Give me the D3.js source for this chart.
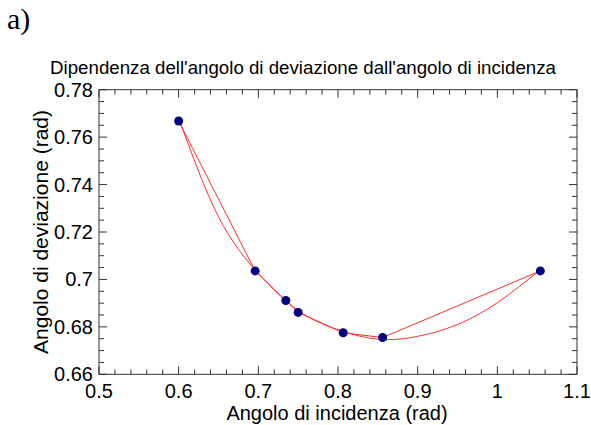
<!DOCTYPE html>
<meta charset="utf-8">
<style>
    body { margin: 0; background: #fff; }
    text { font-family: "Liberation Sans", Arial, sans-serif; fill: #000; }
</style>
<svg width="591" height="425"></svg>
<script src="https://cdnjs.cloudflare.com/ajax/libs/d3/7.8.5/d3.min.js"></script>
<script>
    // measured points (incidence, deviation) in rad
    var incidence = [0.600, 0.696, 0.7345, 0.750, 0.8065, 0.856, 1.054];
    var deviation = [0.7668, 0.7036, 0.6911, 0.6861, 0.6775, 0.6755, 0.7036];

    // smooth red curve
    var curveX = [0.600, 0.650, 0.700, 0.750, 0.800, 0.850, 0.900, 0.950, 1.000, 1.054];
    var curveY = [0.7680, 0.7264, 0.7026, 0.6869, 0.6788, 0.6748, 0.6760, 0.6810, 0.6902, 0.7041];

    var xTicks = [0.5, 0.6, 0.7, 0.8, 0.9, 1, 1.1];
    var yTicks = [0.66, 0.68, 0.7, 0.72, 0.74, 0.76, 0.78];

    var svg = d3.select("svg");
    var x = d3.scaleLinear().domain([0.5, 1.1]).range([99, 577]);
    var y = d3.scaleLinear().domain([0.66, 0.78]).range([374.3, 89.7]);

    var frame = svg.append("g").attr("stroke", "#333").attr("fill", "none");
    frame.append("rect")
        .attr("x", x(0.5)).attr("y", y(0.78))
        .attr("width", x(1.1) - x(0.5)).attr("height", y(0.66) - y(0.78));

    // ticks, inward on all four sides
    var xMinor = d3.range(0.5, 1.1001, 0.02);
    var yMinor = d3.range(0.66, 0.7801, 0.005);
    function isMajor(v, step) { return Math.abs(v / step - Math.round(v / step)) < 1e-6; }

    xMinor.forEach(function (v) {
        var len = isMajor(v, 0.1) ? 8 : 5;
        frame.append("line").attr("x1", x(v)).attr("x2", x(v)).attr("y1", y(0.66)).attr("y2", y(0.66) - len);
        frame.append("line").attr("x1", x(v)).attr("x2", x(v)).attr("y1", y(0.78)).attr("y2", y(0.78) + len);
    });
    yMinor.forEach(function (v) {
        var len = isMajor(v, 0.02) ? 8 : 5;
        frame.append("line").attr("y1", y(v)).attr("y2", y(v)).attr("x1", x(0.5)).attr("x2", x(0.5) + len);
        frame.append("line").attr("y1", y(v)).attr("y2", y(v)).attr("x1", x(1.1)).attr("x2", x(1.1) - len);
    });

    svg.selectAll(".xlab").data(xTicks).enter().append("text")
        .attr("x", function (d) { return x(d); })
        .attr("y", 397.5)
        .attr("text-anchor", "middle")
        .style("font-size", "20px")
        .text(function (d) { return d; });

    svg.selectAll(".ylab").data(yTicks).enter().append("text")
        .attr("x", 93)
        .attr("y", function (d) { return y(d) + 7; })
        .attr("text-anchor", "end")
        .style("font-size", "20px")
        .text(function (d) { return d; });

    // red lines: polyline through the points and the smooth curve
    var pts = incidence.map(function (v, i) { return [v, deviation[i]]; });
    var fit = curveX.map(function (v, i) { return [v, curveY[i]]; });
    var line = d3.line().x(function (d) { return x(d[0]); }).y(function (d) { return y(d[1]); });

    svg.append("path").datum(pts)
        .attr("d", line)
        .attr("fill", "none").attr("stroke", "#ff3030").attr("stroke-width", 1);
    svg.append("path").datum(fit)
        .attr("d", line.curve(d3.curveNatural))
        .attr("fill", "none").attr("stroke", "#ff3030").attr("stroke-width", 1);

    svg.selectAll(".dot").data(pts).enter().append("circle")
        .attr("cx", function (d) { return x(d[0]); })
        .attr("cy", function (d) { return y(d[1]); })
        .attr("r", 4.5)
        .attr("fill", "#000080");

    svg.append("text")
        .attr("x", 303).attr("y", 74)
        .attr("text-anchor", "middle")
        .style("font-size", "18.7px")
        .text("Dipendenza dell'angolo di deviazione dall'angolo di incidenza");

    svg.append("text")
        .attr("x", 337).attr("y", 420)
        .attr("text-anchor", "middle")
        .style("font-size", "20px")
        .text("Angolo di incidenza (rad)");

    svg.append("text")
        .attr("transform", "translate(48," + ((y(0.66) + y(0.78)) / 2) + ") rotate(-90)")
        .attr("text-anchor", "middle")
        .style("font-size", "21px")
        .text("Angolo di deviazione (rad)");

    svg.append("text")
        .attr("x", 7).attr("y", 29)
        .style("font-family", "'Liberation Serif', 'Times New Roman', serif")
        .style("font-size", "30px")
        .text("a)");
</script>
